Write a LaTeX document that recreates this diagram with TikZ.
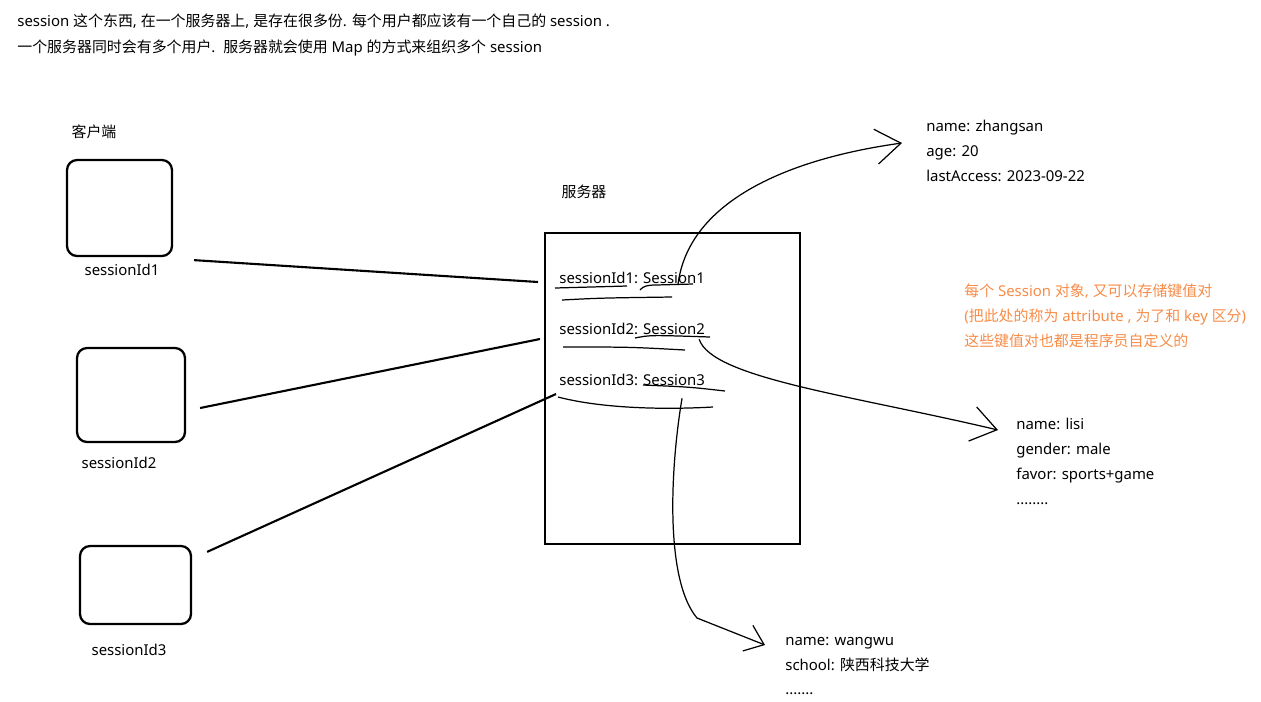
\documentclass[tikz,border=0pt]{standalone}
\usepackage{fontspec}
\setmainfont{Noto Sans}
\newfontfamily\cjkfont{Noto Sans CJK SC}
\newcommand{\zhtext}[1]{{\cjkfont #1}}
\definecolor{noteorange}{RGB}{247,140,72}
\usetikzlibrary{arrows.meta, positioning, calc}

\tikzset{
  client/.style={draw, line width=1.3pt, rounded corners=2mm, inner sep=0},
  server/.style={draw, line width=1.3pt, inner sep=0, minimum width=5.1cm, minimum height=6.22cm},
  txt/.style={inner sep=0, anchor=west, align=left},
  rowtxt/.style={inner sep=0, text height=1.6ex, text depth=0.3ex},
  scribble/.style={line width=0.7pt},
  link/.style={line width=1.2pt},
  kvarrow/.style={line width=0.7pt, -{Straight Barb[length=5mm,width=7mm]}},
}

\begin{document}
\begin{tikzpicture}[x=0.02cm, y=-0.02cm, font=\fontsize{8.5pt}{14.2pt}\selectfont]
  \useasboundingbox (0,0) rectangle (1261,701);

  % intro text
  \node[txt, font=\fontsize{8.5pt}{14.7pt}\selectfont] (intro) at (17,35)
    {session \zhtext{这个东西}, \zhtext{在一个服务器上}, \zhtext{是存在很多份}. \zhtext{每个用户都应该有一个自己的} session .\\
     \zhtext{一个服务器同时会有多个用户}.\ \ \zhtext{服务器就会使用} Map \zhtext{的方式来组织多个} session};

  % clients
  \node[inner sep=0] (clientlbl) at (94,132) {\zhtext{客户端}};
  \node[client, minimum width=2.1cm, minimum height=1.92cm] (c1) at (119.5,208) {};
  \node[client, minimum width=2.16cm, minimum height=1.88cm] (c2) at (131,395) {};
  \node[client, minimum width=2.22cm, minimum height=1.56cm] (c3) at (135.5,585) {};
  \node[inner sep=0] (id1) at (122,270) {sessionId1};
  \node[inner sep=0] (id2) at (119,463) {sessionId2};
  \node[inner sep=0] (id3) at (129,650) {sessionId3};

  % server with its session map
  \node[inner sep=0] (srvlbl) at (584,192) {\zhtext{服务器}};
  \node[server] (srv) at (672.5,388.5) {};
  \node[rowtxt, anchor=west] (k1) at (559,277) {sessionId1:};
  \node[rowtxt, right=2.5pt of k1] (v1) {Session1};
  \node[rowtxt, anchor=west] (k2) at (559,328) {sessionId2:};
  \node[rowtxt, right=2.5pt of k2] (v2) {Session2};
  \node[rowtxt, anchor=west] (k3) at (559,379) {sessionId3:};
  \node[rowtxt, right=2.5pt of k3] (v3) {Session3};

  % hand drawn underlines
  \draw[scribble] (555,288) -- (627,286);
  \draw[scribble] (640,290) .. controls (643,286) and (648,285) .. (656,285) -- (693,284);
  \draw[scribble] (562,300) .. controls (600,298) .. (672,297);
  \draw[scribble] (635,338) .. controls (650,335) .. (710,337);
  \draw[scribble] (563,347) .. controls (630,347) .. (685,350);
  \draw[scribble] (643,385) .. controls (690,387) .. (725,391);
  \draw[scribble] (558,397) .. controls (600,408) and (660,410) .. (713,407);

  % client -> server links
  \draw[link] ($(c1.south east)+(21,3)$) -- ($(k1.west)+(-21,5)$);
  \draw[link] ($(c2.east)+(14,13)$) -- ($(k2.west)+(-19,11)$);
  \draw[link] ($(c3.north east)+(15,7)$) -- ($(k3.west)+(-3,15)$);

  % attribute blocks
  \node[txt] (zs) at (926,151) {name: zhangsan\\age: 20\\lastAccess: 2023-09-22};
  \node[txt] (ls) at (1016,461.5) {name: lisi\\gender: male\\favor: sports+game\\........};
  \node[txt] (ww) at (785,666) {name: wangwu\\school: \zhtext{陕西科技大学}\\.......};
  \node[txt, text=noteorange] (note) at (964,316)
    {\zhtext{每个} Session \zhtext{对象}, \zhtext{又可以存储键值对}\\
     (\zhtext{把此处的称为} attribute , \zhtext{为了和} key \zhtext{区分})\\
     \zhtext{这些键值对也都是程序员自定义的}};

  % session -> attributes
  \draw[kvarrow] ($(v1.south)+(4,-2)$) .. controls (688,205) and (780,160) .. ($(zs.west)+(-24,-8)$);
  \draw[kvarrow] ($(v2.south east)+(-6,2)$) .. controls (712,378) and (850,395) .. ($(ls.west)+(-18,-31.5)$);
  \draw[kvarrow, -{Straight Barb[length=3.5mm,width=5.5mm]}] ($(v3.south)+(8,10)$) .. controls (670,470) and (665,580) .. (697,618) -- ($(ww.west)+(-20,-21)$);

\end{tikzpicture}
\end{document}
